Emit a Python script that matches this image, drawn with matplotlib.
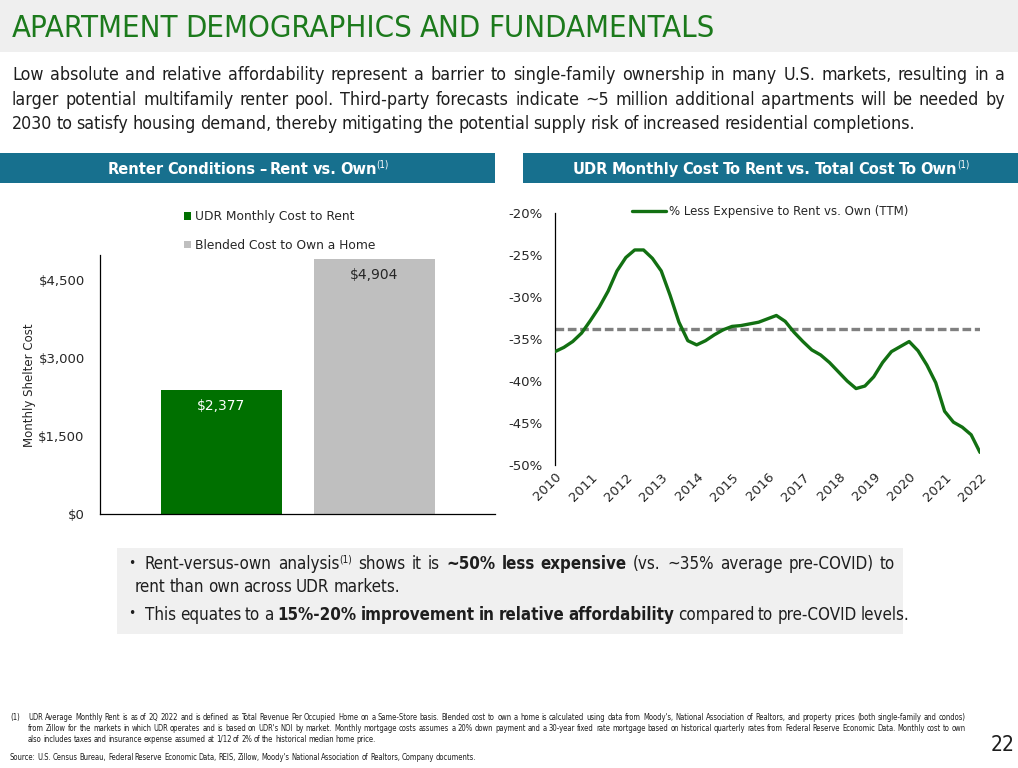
import matplotlib.pyplot as plt
from matplotlib import font_manager as fm
import numpy as np

# ---------------- data ----------------
bar_labels = ['UDR Monthly Cost to Rent', 'Blended Cost to Own a Home']
bar_values = [2377, 4904]
bar_colors = ['#007000', '#bfbfbf']
bar_ticks = [0, 1500, 3000, 4500]

year_ticks = list(range(2010, 2023))
# TTM % less expensive to rent vs. own, quarterly 2010Q1 .. 2022Q1
pct_less = [-36.5, -36.0, -35.3, -34.3, -32.8, -31.2, -29.3, -26.9,
            -25.3, -24.4, -24.4, -25.4, -26.9, -29.8, -33.0, -35.2,
            -35.7, -35.2, -34.5, -33.9, -33.5, -33.4, -33.2, -33.0,
            -32.6, -32.2, -32.9, -34.2, -35.3, -36.3, -36.9, -37.8,
            -38.9, -40.0, -40.9, -40.6, -39.5, -37.8, -36.5, -35.9,
            -35.3, -36.4, -38.1, -40.2, -43.6, -44.9, -45.5, -46.4, -48.5]
pre_covid_avg = -33.8
line_label = '% Less Expensive to Rent vs. Own (TTM)'
pct_ticks = [-50, -45, -40, -35, -30, -25, -20]

title = 'APARTMENT DEMOGRAPHICS AND FUNDAMENTALS'
intro = ['Low absolute and relative affordability represent a barrier to single-family ownership in many U.S. markets, resulting in a',
         'larger potential multifamily renter pool. Third-party forecasts indicate ~5 million additional apartments will be needed by',
         '2030 to satisfy housing demand, thereby mitigating the potential supply risk of increased residential completions.']
left_head = 'Renter Conditions \u2013 Rent vs. Own'
right_head = 'UDR Monthly Cost To Rent vs. Total Cost To Own'
notes = ['UDR Average Monthly Rent is as of 2Q 2022 and is defined as Total Revenue Per Occupied Home on a Same-Store basis. Blended cost to own a home is calculated using data from Moody\'s, National Association of Realtors, and property prices (both single-family and condos)',
         'from Zillow for the markets in which UDR operates and is based on UDR\'s NOI by market. Monthly mortgage costs assumes a 20% down payment and a 30-year fixed rate mortgage based on historical quarterly rates from Federal Reserve Economic Data. Monthly cost to own',
         'also includes taxes and insurance expense assumed at 1/12 of 2% of the historical median home price.']
source = 'Source: U.S. Census Bureau, Federal Reserve Economic Data, REIS, Zillow, Moody\'s National  Association of Realtors, Company documents.'

# pick a condensed face if one is installed, else a fairly narrow one
FONT = dict(family='Roboto')
for f in fm.fontManager.ttflist:
    if ('Narrow' in f.name or 'Condensed' in f.name
            or str(f.stretch) in ('condensed', 'semi-condensed', '75', '87.5')):
        FONT = dict(family=f.name, stretch=f.stretch)
        break

TEAL = '#17708e'
INK = '#1e1e1e'

W, H = 1018, 768
fig = plt.figure(figsize=(W / 100, H / 100), dpi=100)
bg = fig.add_axes([0, 0, 1, 1], zorder=0)
bg.set_xlim(0, W)
bg.set_ylim(H, 0)
bg.axis('off')
rend = fig.canvas.get_renderer()


def box(l, t, r, b):
    return [l / W, 1 - b / H, (r - l) / W, (b - t) / H]


def words(s, st=''):
    return [(w, st) for w in s.split()]


def make(items, y, size, color, x=0):
    arts = []
    for w, st in items:
        t = bg.text(x, y, w, fontsize=size * 0.6 if st == 's' else size, color=color,
                    va='baseline', fontweight='bold' if st == 'b' else 'normal', **FONT)
        arts.append((t, st))
    return arts


def space_w(size):
    a = bg.text(0, 0, 'n n', fontsize=size, **FONT)
    b = bg.text(0, 0, 'nn', fontsize=size, **FONT)
    d = a.get_window_extent(rend).width - b.get_window_extent(rend).width
    a.remove()
    b.remove()
    return d * 0.8


def natural(items, size):
    arts = make(items, 0, size, INK)
    ws = sum(t.get_window_extent(rend).width for t, _ in arts)
    gaps = sum(1 for _, st in items[1:] if st != 's')
    for t, _ in arts:
        t.remove()
    return ws + gaps * space_w(size)


def put(items, x, y, size, color=INK, x_end=None, center=None):
    # y is the visual middle of the line; convert to a baseline
    px = size * 100 / 72
    yb = y + px * 0.36
    if center is not None:
        x = center - natural(items, size) / 2
    arts = make(items, yb, size, color)
    ws = [t.get_window_extent(rend).width for t, _ in arts]
    gaps = sum(1 for _, st in items[1:] if st != 's')
    sp = space_w(size)
    if x_end is not None and gaps:
        sp = (x_end - x - sum(ws)) / gaps
    cx = x
    for i, ((t, st), w) in enumerate(zip(arts, ws)):
        if i > 0 and st != 's':
            cx += sp
        t.set_x(cx)
        if st == 's':
            t.set_y(yb - px * 0.38)
        cx += w


def fit(items, width, size):
    return size * width / natural(items, size)


# ---------------- page furniture ----------------
bg.add_patch(plt.Rectangle((0, 0), W, 52, color='#efefef', lw=0))
ts = fit(words(title), 701, 26)
put(words(title), 12, 26, ts, color='#1c7a1c')

ps = fit(words(intro[2]), 900, 13)
put(words(intro[0]), 12, 74, ps, x_end=1005)
put(words(intro[1]), 12, 99, ps, x_end=1005)
put(words(intro[2]), 12, 123, ps)

bg.add_patch(plt.Rectangle((0, 153), 495, 30, color=TEAL, lw=0))
bg.add_patch(plt.Rectangle((523, 153), 495, 30, color=TEAL, lw=0))
lh = words(left_head, 'b') + [('(1)', 's')]
rh = words(right_head, 'b') + [('(1)', 's')]
hs = fit(lh, 281, 12)
put(lh, 0, 168, hs, color='white', center=248)
put(rh, 0, 168, hs, color='white', center=771)

# bullet box
bg.add_patch(plt.Rectangle((117, 548), 786, 86, color='#f0f0f0', lw=0))
b1 = (words('Rent-versus-own analysis') + [('(1)', 's')] + words('shows it is')
      + words('~50% less expensive', 'b') + words('(vs. ~35% average pre-COVID) to'))
b3 = (words('This equates to a') + words('15%-20% improvement in relative affordability', 'b')
      + words('compared to pre-COVID levels.'))
bs = fit(b3, 763, 12)
bg.text(128, 563, '\u2022', fontsize=bs * 0.8, color=INK, va='center', **FONT)
bg.text(128, 614, '\u2022', fontsize=bs * 0.8, color=INK, va='center', **FONT)
put(b1, 145, 563, bs, x_end=895)
put(words('rent than own across UDR markets.'), 135, 586, bs)
put(b3, 145, 614, bs)

# footnotes
fs = fit(words(notes[0]), 938, 5)
put([('(1)', '')], 10, 717, fs)
put(words(notes[0]), 28, 717, fs, x_end=966)
put(words(notes[1]), 28, 728, fs, x_end=966)
put(words(notes[2]), 28, 739, fs)
put(words(source), 10, 757, fs)
bg.text(1003, 745, '22', fontsize=15, color=INK, ha='center', va='center', **FONT)

# ---------------- bar chart ----------------
ax = fig.add_axes(box(100, 255, 495, 514), zorder=2)
ax.patch.set_alpha(0)
bars = ax.bar([0, 1], bar_values, width=0.79, color=bar_colors)
for p, lab in zip(bars, bar_labels):
    p.set_label(lab)
for i, v in enumerate(bar_values):
    ax.annotate('${:,}'.format(v), (i, v), xytext=(0, -16), textcoords='offset pixels',
                ha='center', va='center', fontsize=10,
                color='white' if i == 0 else '#262626')
ax.set_xlim(-0.794, 1.788)
ax.set_ylim(0, 4980)
ax.set_yticks(bar_ticks)
ax.set_yticklabels(['${:,}'.format(t) for t in bar_ticks])
ax.set_xticks([])
ax.tick_params(axis='y', length=0, pad=11, labelsize=9.5, labelcolor='#262626')
for s in ['top', 'right']:
    ax.spines[s].set_visible(False)
ax.spines['left'].set_linewidth(0.9)
ax.spines['bottom'].set_linewidth(0.9)
ax.legend(handles=list(bars), loc='upper left', bbox_to_anchor=(184 / W, 1 - 210 / H),
          bbox_transform=fig.transFigure, frameon=False, fontsize=8.8,
          handlelength=0.6, handleheight=0.6, handletextpad=0.3, labelspacing=1.3,
          borderpad=0, borderaxespad=0, labelcolor='#262626')
bg.text(30, 385, 'Monthly Shelter Cost', rotation=90, ha='center', va='center',
        fontsize=8.5, color='#262626')

# ---------------- line chart ----------------
ax2 = fig.add_axes(box(555, 213, 980, 465), zorder=2)
ax2.patch.set_alpha(0)
quarters = [2010 + i / 4 for i in range(len(pct_less))]
ax2.plot(quarters, pct_less, color='#127012', lw=2.4, solid_joinstyle='round',
         solid_capstyle='round', label=line_label, zorder=3)
ax2.axhline(pre_covid_avg, color='#808080', lw=2.4, dashes=(2.6, 1.1), zorder=2)
ax2.set_xlim(2010, 2022)
ax2.set_ylim(-50, -20)
ax2.set_yticks(pct_ticks)
ax2.set_yticklabels(['{}%'.format(t) for t in pct_ticks])
ax2.set_xticks(year_ticks)
ax2.set_xticklabels([str(y) for y in year_ticks], rotation=45, ha='right',
                    rotation_mode='anchor')
ax2.tick_params(axis='y', length=0, pad=9, labelsize=9.5, labelcolor='#262626')
ax2.tick_params(axis='x', length=0, pad=4, labelsize=9.5, labelcolor='#262626')
for s in ['top', 'right', 'bottom']:
    ax2.spines[s].set_visible(False)
ax2.spines['left'].set_linewidth(0.9)
ax2.legend(loc='center left', bbox_to_anchor=(632 / W, 1 - 212 / H),
           bbox_transform=fig.transFigure, frameon=False, fontsize=8.5,
           handlelength=2.9, handletextpad=0.25, borderpad=0, borderaxespad=0,
           labelcolor='#262626')

fig.savefig('out.png', dpi=100)
